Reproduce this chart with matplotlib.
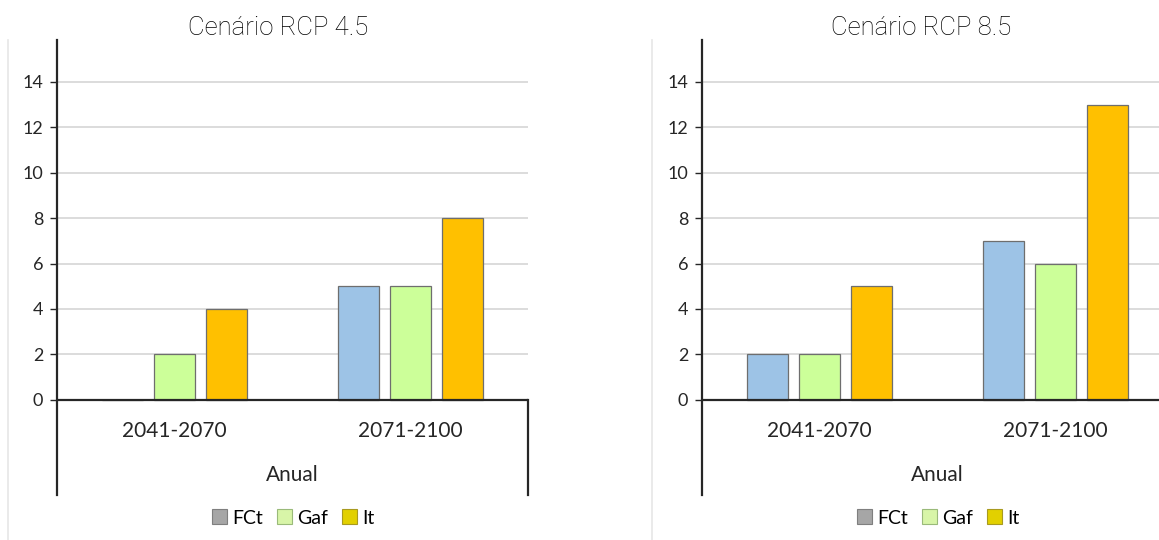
import numpy as np
import matplotlib.pyplot as plt
from matplotlib.patches import Patch
from matplotlib.lines import Line2D

# periods on the category axis, one panel per scenario
periods = ["2041-2070", "2071-2100"]
series = ["FCt", "Gaf", "It"]
rcp45_fct = [0, 5]
rcp45_gaf = [2, 5]
rcp45_it = [4, 8]
rcp85_fct = [2, 7]
rcp85_gaf = [2, 6]
rcp85_it = [5, 13]
yticks = [0, 2, 4, 6, 8, 10, 12, 14]

bar_colors = ["#9dc3e6", "#ccff99", "#ffc000"]
legend_colors = ["#a6a6a6", "#d8f5a8", "#e2d000"]
legend_edges = ["#7f7f7f", "#9aba7a", "#a89a20"]

W, H = 1159, 540
fig = plt.figure(figsize=(W / 100, H / 100), dpi=100)


def panel(x0, title, title_x, values):
    ax = fig.add_axes([x0 / W, 1 - 495 / H, 471 / W, 455 / H])
    ax.set_xlim(-0.5, 1.5)
    ax.set_ylim(-4.2, 15.85)
    x = np.arange(len(periods))
    for k, (vals, col) in enumerate(zip(values, bar_colors)):
        ax.bar(x + (k - 1) * 0.221, vals, width=0.174, color=col,
               edgecolor="#6e6e6e", linewidth=0.9, zorder=3)
    # horizontal grid only above the baseline
    ax.hlines(yticks[1:], -0.5, 1.5, colors="#d9d9d9", linewidth=1.3, zorder=1)
    ax.axhline(0, color="#262626", linewidth=1.6, zorder=4)
    ax.plot([1.5, 1.5], [-4.2, 0], color="#262626", linewidth=1.6,
            clip_on=False, zorder=4)
    for s in ["top", "right", "bottom"]:
        ax.spines[s].set_visible(False)
    ax.spines["left"].set_color("#262626")
    ax.spines["left"].set_linewidth(1.6)
    ax.set_xticks([])
    ax.set_yticks(yticks)
    ax.tick_params(axis="y", length=5, width=1.0, color="#262626",
                   labelsize=13, labelcolor="#262626", pad=5)
    for lbl in ax.get_yticklabels():
        lbl.set_family("Lato")
    for xi, p in zip(x, periods):
        ax.text(xi, -1.4, p, ha="center", va="center", fontsize=15,
                family="Lato", color="#262626")
    ax.text(0.5, -3.3, "Anual", ha="center", va="center", fontsize=15,
            family="Lato", color="#262626")
    fig.text(title_x / W, 1 - 28 / H, title, ha="center", va="center",
             fontsize=18.5, family="Roboto", fontweight="light",
             color="#000000")
    handles = [Patch(facecolor=c, edgecolor=e, linewidth=0.8)
               for c, e in zip(legend_colors, legend_edges)]
    fig.legend(handles, series, loc="center", ncol=3, frameon=False,
               bbox_to_anchor=((x0 + 236) / W, 1 - 518 / H),
               prop={"family": "Lato", "size": 14}, handlelength=0.8,
               handleheight=0.8, handletextpad=0.25, columnspacing=0.7)
    return ax


panel(57, "Cenário RCP 4.5", 278, [rcp45_fct, rcp45_gaf, rcp45_it])
panel(702, "Cenário RCP 8.5", 921, [rcp85_fct, rcp85_gaf, rcp85_it])

# faint chart-area borders
for bx in (8, 652):
    fig.add_artist(Line2D([bx / W, bx / W], [0, 1 - 40 / H],
                          color="#e6e6e6", linewidth=1.2))

fig.savefig("out.png", dpi=100)
